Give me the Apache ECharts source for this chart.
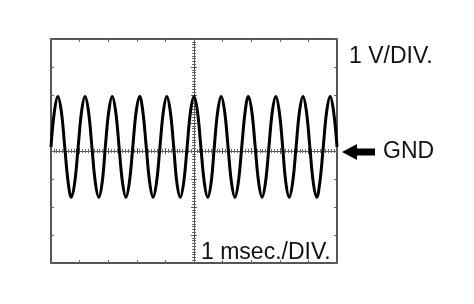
<!DOCTYPE html>
<html><head><meta charset="utf-8">
<script src="https://cdn.jsdelivr.net/npm/echarts@6/dist/echarts.min.js"></script>
<style>html,body{margin:0;padding:0;background:#fff}#c{width:474px;height:304px}</style>
</head><body><div id="c"></div>
<script>
// time in divisions (1 msec./DIV.)
var timeMs = [0,0.12,0.24,0.36,0.48,0.60,0.71,0.83,0.95,1.07,1.19,1.31,1.43,1.55,1.67,1.79,1.90,2.02,2.14,2.26,2.38,2.50,2.62,2.74,2.86,2.98,3.10,3.21,3.33,3.45,3.57,3.69,3.81,3.93,4.05,4.17,4.29,4.40,4.52,4.64,4.76,4.88,5.00,5.12,5.24,5.36,5.48,5.60,5.71,5.83,5.95,6.07,6.19,6.31,6.43,6.55,6.67,6.79,6.90,7.02,7.14,7.26,7.38,7.50,7.62,7.74,7.86,7.98,8.10,8.21,8.33,8.45,8.57,8.69,8.81,8.93,9.05,9.17,9.29,9.40,9.52,9.64,9.76,9.88,10.00];
// voltage in divisions (1 V/DIV.)
var volts = [0.15,1.42,1.95,1.42,0.15,-1.12,-1.65,-1.12,
0.15,1.42,1.95,1.42,0.15,-1.12,-1.65,-1.12,
0.15,1.42,1.95,1.42,0.15,-1.12,-1.65,-1.12,
0.15,1.42,1.95,1.42,0.15,-1.12,-1.65,-1.12,
0.15,1.42,1.95,1.42,0.15,-1.12,-1.65,-1.12,
0.15,1.42,1.95,1.42,0.15,-1.12,-1.65,-1.12,
0.15,1.42,1.95,1.42,0.15,-1.12,-1.65,-1.12,
0.15,1.42,1.95,1.42,0.15,-1.12,-1.65,-1.12,
0.15,1.42,1.95,1.42,0.15,-1.12,-1.65,-1.12,
0.15,1.42,1.95,1.42,0.15,-1.12,-1.65,-1.12,
0.15,1.42,1.95,1.42,0.15];
var voltLabel = '1 V/DIV.';
var timeLabel = '1 msec./DIV.';
var gndLabel = 'GND';

var pts = timeMs.map(function(t,i){return [t, volts[i]];});
var FONT = '"Liberation Sans", Arial, sans-serif';
var border = {show:true, onZero:false, lineStyle:{color:'#555', width:2}};
var tick = {show:true, inside:true, length:3, lineStyle:{color:'#666', width:1}};
var centerLine = {show:true, onZero:true, lineStyle:{color:'#555', width:1}};
var minor = {show:true, splitNumber:10, length:2, lineStyle:{color:'#666', width:1}};

var chart = echarts.init(document.getElementById('c'), null, {renderer:'canvas'});
chart.setOption({
  animation:false,
  backgroundColor:'#fff',
  grid:{left:51, right:137, top:39, bottom:41, containLabel:false},
  xAxis:[
    {type:'value', min:0, max:10, interval:1, position:'bottom', axisLine:border, axisTick:tick, axisLabel:{show:false}, splitLine:{show:false}},
    {type:'value', min:0, max:10, interval:1, position:'top', axisLine:border, axisTick:tick, axisLabel:{show:false}, splitLine:{show:false}},
    {type:'value', min:-5, max:5, interval:1, position:'bottom', show:false},
    {type:'value', min:0, max:10, interval:1, position:'bottom', axisLine:Object.assign({}, centerLine, {onZeroAxisIndex:2}), axisTick:{show:true, inside:true, length:3, lineStyle:{color:'#555'}}, minorTick:minor, axisLabel:{show:false}, splitLine:{show:false}},
    {type:'value', min:0, max:10, interval:1, position:'bottom', axisLine:Object.assign({}, centerLine, {onZeroAxisIndex:2}), axisTick:{show:true, inside:false, length:3, lineStyle:{color:'#555'}}, minorTick:minor, axisLabel:{show:false}, splitLine:{show:false}}
  ],
  yAxis:[
    {type:'value', min:-4, max:4, interval:1, position:'left', axisLine:border, axisTick:tick, axisLabel:{show:false}, splitLine:{show:false}},
    {type:'value', min:-4, max:4, interval:1, position:'right', axisLine:border, axisTick:tick, axisLabel:{show:false}, splitLine:{show:false}},
    {type:'value', min:-4, max:4, interval:1, position:'left', axisLine:Object.assign({}, centerLine, {onZeroAxisIndex:2}), axisTick:{show:true, inside:true, length:3, lineStyle:{color:'#555'}}, minorTick:minor, axisLabel:{show:false}, splitLine:{show:false}},
    {type:'value', min:-4, max:4, interval:1, position:'left', axisLine:Object.assign({}, centerLine, {onZeroAxisIndex:2}), axisTick:{show:true, inside:false, length:3, lineStyle:{color:'#555'}}, minorTick:minor, axisLabel:{show:false}, splitLine:{show:false}}
  ],
  series:[{
    type:'line', xAxisIndex:0, yAxisIndex:0, data:pts, smooth:0.4, showSymbol:false,
    lineStyle:{color:'#000', width:3}, z:5
  }],
  graphic:[
    {type:'text', left:349, top:45, style:{text:voltLabel, font:'23px '+FONT, fill:'#111'}},
    {type:'text', left:383, top:140, style:{text:gndLabel, font:'23px '+FONT, fill:'#111'}},
    {type:'text', left:201, top:241, style:{text:timeLabel, font:'23px '+FONT, fill:'#111'}},
    {type:'polygon', shape:{points:[[342,152],[357,144],[357,148.5],[375,148.5],[375,155.5],[357,155.5],[357,160]]}, style:{fill:'#000'}}
  ]
});
</script></body></html>
